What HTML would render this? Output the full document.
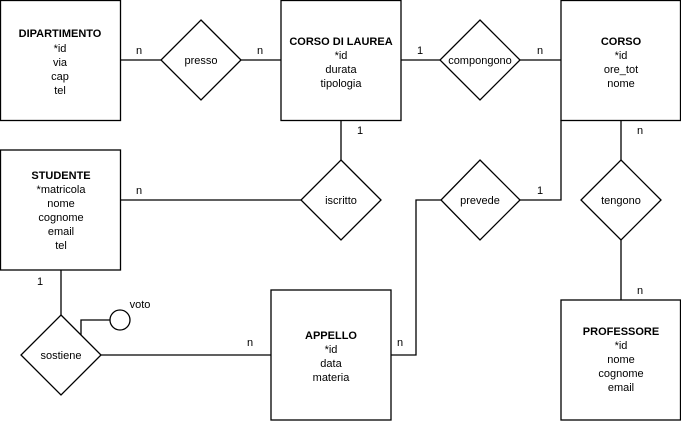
<!DOCTYPE html>
<html><head><meta charset="utf-8"><style>body{margin:0;background:#fff}svg{display:block}</style></head><body>
<svg width="681" height="421" viewBox="0 0 681 421" xmlns="http://www.w3.org/2000/svg" font-family="Liberation Sans, sans-serif" font-size="11" text-anchor="middle">
<g fill="#fff" stroke="#000" stroke-width="1.3">
<rect x="0.5" y="0.5" width="120" height="120"/>
<rect x="281" y="0.5" width="120" height="120"/>
<rect x="561" y="0.5" width="119.5" height="120"/>
<rect x="0.5" y="150" width="120" height="120"/>
<rect x="271" y="290" width="120" height="130"/>
<rect x="561" y="300" width="119.5" height="120"/>
</g>
<g fill="none" stroke="#000" stroke-width="1.3">
<line x1="121" y1="60" x2="161" y2="60"/><line x1="241" y1="60" x2="281" y2="60"/>
<line x1="401" y1="60" x2="440" y2="60"/><line x1="520" y1="60" x2="561" y2="60"/>
<line x1="341" y1="120" x2="341" y2="160"/>
<line x1="121" y1="200" x2="302" y2="200"/>
<polyline points="441,200 416,200 416,355 391,355"/>
<polyline points="520,200 561,200 561,120"/>
<line x1="621" y1="120" x2="621" y2="160"/><line x1="621" y1="240" x2="621" y2="300"/>
<line x1="61" y1="270" x2="61" y2="315"/>
<line x1="101" y1="355" x2="271" y2="355"/>
<polyline points="81,335 81,320 110,320"/>
<circle cx="120" cy="320" r="10" fill="#fff"/>
<polygon fill="#fff" points="201,20 241,60 201,100 161,60"/>
<polygon fill="#fff" points="480,20 520,60 480,100 440,60"/>
<polygon fill="#fff" points="341,160 381,200 341,240 301,200"/>
<polygon fill="#fff" points="480,160 520,200 480,240 441,200"/>
<polygon fill="#fff" points="621,160 661,200 621,240 581,200"/>
<polygon fill="#fff" points="61,315 101,355 61,395 21,355"/>
</g>
<g fill="#000">
<text x="60" y="37" font-weight="bold">DIPARTIMENTO</text>
<text x="60" y="52">*id</text><text x="60" y="66">via</text><text x="60" y="80">cap</text><text x="60" y="94">tel</text>
<text x="341" y="45" font-weight="bold">CORSO DI LAUREA</text>
<text x="341" y="59">*id</text><text x="341" y="73">durata</text><text x="341" y="87">tipologia</text>
<text x="621" y="45" font-weight="bold">CORSO</text>
<text x="621" y="59">*id</text><text x="621" y="73">ore_tot</text><text x="621" y="87">nome</text>
<text x="61" y="179" font-weight="bold">STUDENTE</text>
<text x="61" y="193">*matricola</text><text x="61" y="207">nome</text><text x="61" y="221">cognome</text><text x="61" y="235">email</text><text x="61" y="249">tel</text>
<text x="331" y="339" font-weight="bold">APPELLO</text>
<text x="331" y="353">*id</text><text x="331" y="367">data</text><text x="331" y="381">materia</text>
<text x="621" y="335" font-weight="bold">PROFESSORE</text>
<text x="621" y="349">*id</text><text x="621" y="363">nome</text><text x="621" y="377">cognome</text><text x="621" y="391">email</text>
<text x="201" y="64">presso</text><text x="480" y="64">compongono</text>
<text x="341" y="204">iscritto</text><text x="480" y="204">prevede</text><text x="621" y="204">tengono</text>
<text x="61" y="359">sostiene</text>
<text x="140" y="308">voto</text>
<text x="139" y="54">n</text><text x="260" y="54">n</text><text x="420" y="54">1</text><text x="540" y="54">n</text>
<text x="360" y="134">1</text><text x="640" y="134">n</text>
<text x="139" y="194">n</text><text x="540" y="194">1</text>
<text x="40" y="285">1</text><text x="250" y="346">n</text><text x="400" y="346">n</text><text x="640" y="294">n</text>
</g>
</svg>
</body></html>
